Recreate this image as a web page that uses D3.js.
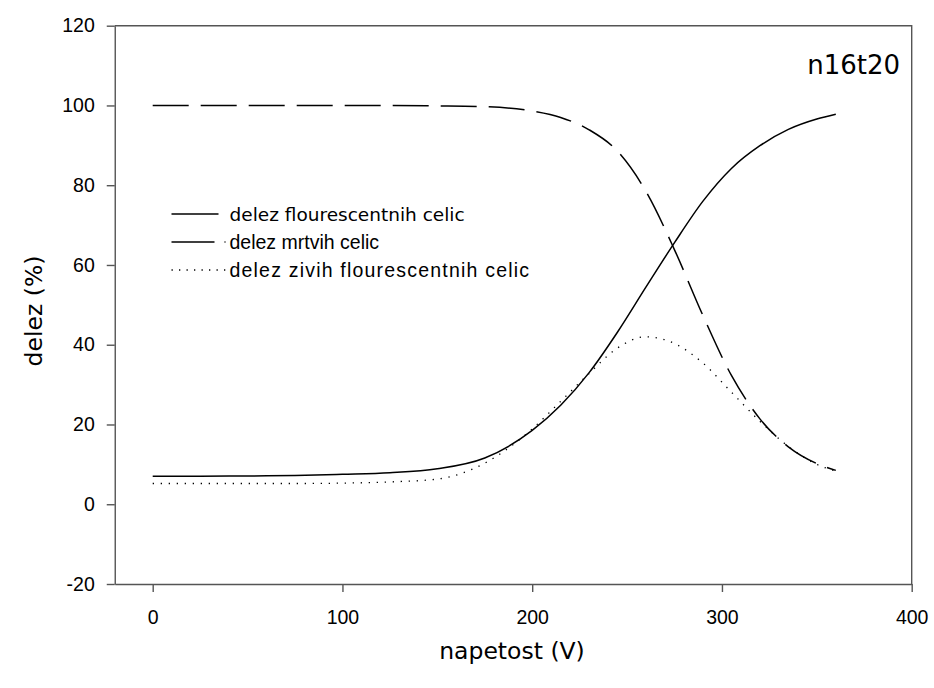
<!DOCTYPE html>
<meta charset="utf-8">
<style>
  body { margin: 0; background: #fff; }
  .tick text { font-family: "Century Gothic", "Liberation Sans", Arial, sans-serif; font-size: 19.5px; fill: #000; }
  .axis path, .axis line { stroke: #555; stroke-width: 1.4; }
  .comic { font-family: "Comic Sans MS", "DejaVu Sans", sans-serif; }
  .arial { font-family: "Liberation Sans", Arial, sans-serif; }
</style>
<svg width="934" height="688"></svg>
<script src="https://d3js.org/d3.v7.min.js"></script>
<script>
  // napetost (V)
  var voltage = [0, 25, 50, 75, 100, 125, 150, 175, 200, 215, 230, 245, 260, 275, 290, 305, 320, 335, 350, 360];
  // delez flourescentnih celic
  var fluor = [7.0, 7.0, 7.1, 7.2, 7.5, 7.9, 8.9, 11.6, 18.5, 24.8, 33.0, 43.2, 54.5, 65.6, 76.0, 84.2, 89.9, 94.0, 96.6, 97.8];
  // delez mrtvih celic
  var dead = [100, 100, 100, 100, 100, 100, 99.9, 99.7, 98.6, 97.0, 93.9, 88.5, 78.4, 63.8, 47.3, 32.3, 21.4, 14.4, 10.2, 8.5];
  // delez zivih flourescentnih celic
  var alive = [5.2, 5.2, 5.2, 5.2, 5.3, 5.6, 6.3, 10.3, 18.9, 25.8, 32.8, 39.2, 42.0, 40.3, 35.4, 28.1, 20.8, 14.5, 10.0, 8.3];

  var xTicks = [0, 100, 200, 300, 400];
  var yTicks = [-20, 0, 20, 40, 60, 80, 100, 120];

  var series = [
    { name: "delez flourescentnih celic", values: fluor, dash: null, legendDash: null, width: 1.5, font: "comic", size: 18.5, spacing: 0 },
    { name: "delez mrtvih celic", values: dead, dash: "36,12", legendDash: "43,10", width: 1.5, font: "arial", size: 19.5, spacing: 0 },
    { name: "delez zivih flourescentnih celic", values: alive, dash: "1.3,6.7", legendDash: "1.3,6.2", width: 1.3, font: "arial", size: 19.5, spacing: 1.2 }
  ];

  var svg = d3.select("svg");

  var x = d3.scaleLinear().domain([-20, 400]).range([114.75, 911.7]);
  var y = d3.scaleLinear().domain([-20, 120]).range([584, 25.7]);

  // axes
  svg.append("g").attr("class", "axis")
    .attr("transform", "translate(0," + y(-20) + ")")
    .call(d3.axisBottom(x).tickValues(xTicks).tickSize(8).tickSizeOuter(0).tickPadding(18)
      .tickFormat(function(d) { return String(d); }));

  svg.append("g").attr("class", "axis")
    .attr("transform", "translate(" + x(-20) + ",0)")
    .call(d3.axisLeft(y).tickValues(yTicks).tickSize(8).tickSizeOuter(0).tickPadding(12)
      .tickFormat(function(d) { return String(d); }));

  // frame top and right
  svg.append("path")
    .attr("d", "M" + x(-20) + "," + y(120) + "H" + x(400) + "V" + y(-20))
    .attr("fill", "none").attr("stroke", "#555").attr("stroke-width", 1.4);

  var line = d3.line()
    .x(function(d, i) { return x(voltage[i]); })
    .y(function(d) { return y(d); })
    .curve(d3.curveMonotoneX);

  svg.append("g").selectAll("path")
    .data(series)
    .enter().append("path")
    .attr("d", function(d) { return line(d.values); })
    .attr("fill", "none")
    .attr("stroke", "#000")
    .attr("stroke-width", function(d) { return d.width; })
    .attr("stroke-dasharray", function(d) { return d.dash; });

  // legend
  var legend = svg.append("g").selectAll("g")
    .data(series)
    .enter().append("g")
    .attr("transform", function(d, i) { return "translate(171.5," + (214 + i * 28) + ")"; });

  legend.append("line")
    .attr("x1", 0).attr("x2", function(d, i) { return i == 0 ? 47 : 54; })
    .attr("stroke", "#000")
    .attr("stroke-width", function(d) { return d.width; })
    .attr("stroke-dasharray", function(d) { return d.legendDash; });

  legend.append("text")
    .attr("class", function(d) { return d.font; })
    .attr("x", 58).attr("y", 6.5)
    .attr("font-size", function(d) { return d.size; })
    .attr("letter-spacing", function(d) { return d.spacing; })
    .text(function(d) { return d.name; });

  // titles
  svg.append("text").attr("class", "comic")
    .attr("x", 900).attr("y", 74)
    .attr("text-anchor", "end")
    .attr("font-size", 26)
    .text("n16t20");

  svg.append("text").attr("class", "comic")
    .attr("x", 512).attr("y", 659)
    .attr("text-anchor", "middle")
    .attr("font-size", 23.5)
    .text("napetost (V)");

  svg.append("text").attr("class", "comic")
    .attr("transform", "translate(42,311) rotate(-90)")
    .attr("text-anchor", "middle")
    .attr("font-size", 23.5)
    .text("delez (%)");
</script>
